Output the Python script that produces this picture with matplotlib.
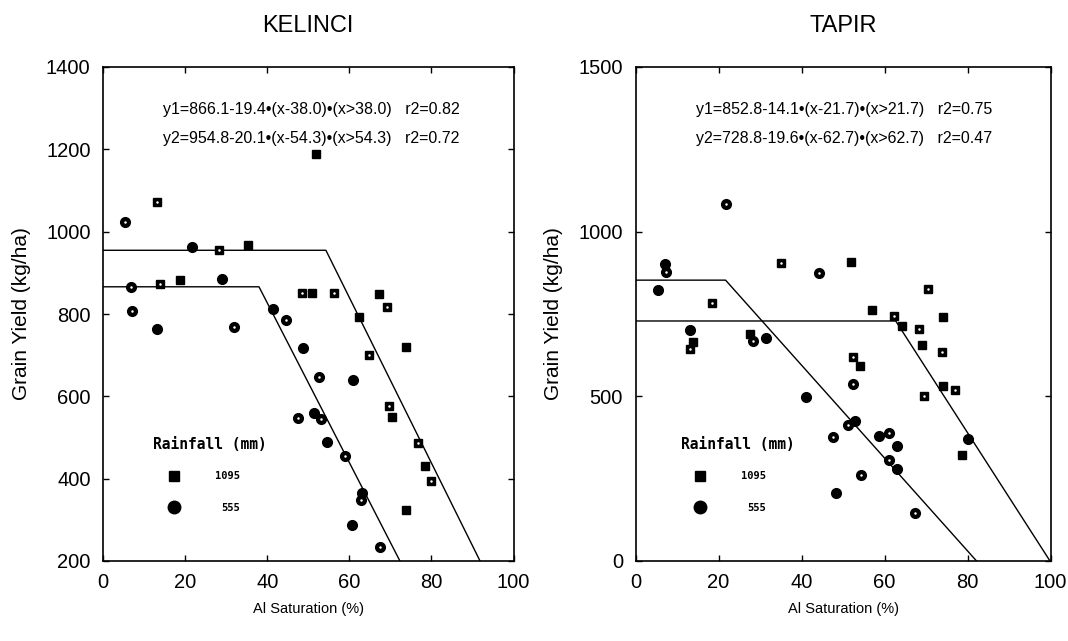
import numpy as np
import matplotlib.pyplot as plt

plt.rcParams['font.family'] = ['Liberation Sans', 'DejaVu Sans']

# KELINCI - grain yield vs Al saturation
kel_hi_x = [13.2, 51.8, 28.2, 35.3, 13.8, 18.7, 48.5, 50.8, 56.3, 67.2,
            69.1, 62.4, 64.7, 73.9, 69.6, 70.4, 76.8, 78.5, 80.0, 73.9]
kel_hi_y = [1073, 1188, 956, 968, 872, 883, 852, 852, 852, 849,
            816, 793, 701, 719, 577, 551, 486, 431, 395, 324]
kel_lo_x = [5.4, 21.8, 6.9, 28.9, 7.1, 13.2, 31.8, 41.3, 44.5, 48.6, 52.7,
            61.0, 47.6, 51.5, 53.0, 54.5, 59.0, 63.1, 62.8, 60.7, 67.4]
kel_lo_y = [1024, 962, 865, 885, 807, 763, 768, 811, 785, 717, 648,
            640, 547, 560, 544, 490, 455, 366, 348, 287, 235]
kel_a = [866.1, 954.8]
kel_b = [19.4, 20.1]
kel_c = [38.0, 54.3]
kel_r2 = [0.82, 0.72]

# TAPIR
tap_hi_x = [35.0, 52.0, 18.5, 57.1, 70.4, 74.1, 62.3, 64.3, 68.4, 69.0, 73.8,
            13.8, 13.1, 27.6, 52.4, 54.2, 69.5, 74.1, 76.9, 78.7]
tap_hi_y = [904, 907, 783, 763, 825, 741, 745, 715, 705, 657, 636,
            665, 645, 690, 618, 591, 500, 530, 520, 321]
tap_lo_x = [21.7, 7.2, 7.3, 5.5, 44.3, 13.2, 28.4, 31.5, 52.5, 41.2, 51.2, 52.8,
            47.5, 58.7, 61.0, 63.0, 61.0, 63.1, 54.4, 48.2, 67.3, 80.1]
tap_lo_y = [1084, 901, 879, 823, 874, 702, 669, 677, 538, 497, 414, 424,
            377, 379, 389, 348, 308, 280, 260, 207, 145, 369]
tap_a = [852.8, 728.8]
tap_b = [14.1, 19.6]
tap_c = [21.7, 62.7]
tap_r2 = [0.75, 0.47]

rain_labels = ['1095', '555']


def draw_panel(ax, title, hx, hy, lx, ly, a, b, c, r2, ylim, yticks, leg):
    # piecewise linear fits: flat, then falling after the break point
    for ai, bi, ci in zip(a, b, c):
        xs = np.array([0.0, ci, 100.0])
        ys = ai - bi * np.clip(xs - ci, 0, None)
        ax.plot(xs, ys, color='black', lw=1.0)
    ax.plot(hx, hy, 's', color='black', ms=5.5, mec='black')
    ax.plot(lx, ly, 'o', color='black', ms=7, mec='black')
    # every other symbol carries the small hollow centre of the plotter
    ax.plot((hx + lx)[::2], (hy + ly)[::2], '.', color='white', ms=1.6)

    for i, (ai, bi, ci, ri) in enumerate(zip(a, b, c, r2)):
        txt = 'y%d=%.1f-%.1f\u2022(x-%.1f)\u2022(x>%.1f)   r2=%.2f' % (i + 1, ai, bi, ci, ci, ri)
        ax.text(0.145, 0.913 - i * 0.058, txt, transform=ax.transAxes,
                fontsize=11.5, va='center', ha='left')

    # rainfall key
    lx0, mx, tx = leg
    mono = dict(family='DejaVu Sans Mono', weight='bold')
    ax.text(lx0, 0.235, 'Rainfall (mm)', transform=ax.transAxes,
            fontsize=10.5, va='center', ha='left', **mono)
    ax.plot([mx], [0.172], 's', color='black', ms=7, transform=ax.transAxes)
    ax.plot([mx], [0.110], 'o', color='black', ms=9, transform=ax.transAxes)
    ax.text(tx, 0.172, rain_labels[0], transform=ax.transAxes,
            fontsize=7.5, va='center', ha='center', **mono)
    ax.text(tx + 0.008, 0.108, rain_labels[1], transform=ax.transAxes,
            fontsize=7.5, va='center', ha='center', **mono)

    ax.set_xlim(0, 100)
    ax.set_ylim(*ylim)
    ax.set_xticks(range(0, 101, 20))
    ax.set_yticks(yticks)
    ax.tick_params(direction='in', top=True, right=True, length=4.5,
                   width=1.0, labelsize=14.5, pad=9)
    for s in ax.spines.values():
        s.set_linewidth(1.2)
    ax.set_title(title, fontsize=17, pad=25)
    ax.set_xlabel('Al Saturation (%)', fontsize=10.5, labelpad=7)
    ax.set_ylabel('Grain Yield (kg/ha)', fontsize=15, labelpad=11)


fig = plt.figure(figsize=(10.68, 6.41), dpi=100)
ax1 = fig.add_axes([103 / 1068, 80 / 641, 410.5 / 1068, 494 / 641])
ax2 = fig.add_axes([635.5 / 1068, 80 / 641, 415 / 1068, 494 / 641])

draw_panel(ax1, 'KELINCI', kel_hi_x, kel_hi_y, kel_lo_x, kel_lo_y,
           kel_a, kel_b, kel_c, kel_r2, (200, 1400), range(200, 1401, 200),
           (0.122, 0.172, 0.303))
draw_panel(ax2, 'TAPIR', tap_hi_x, tap_hi_y, tap_lo_x, tap_lo_y,
           tap_a, tap_b, tap_c, tap_r2, (0, 1500), range(0, 1501, 500),
           (0.110, 0.155, 0.285))

fig.savefig('out.png', dpi=100)
